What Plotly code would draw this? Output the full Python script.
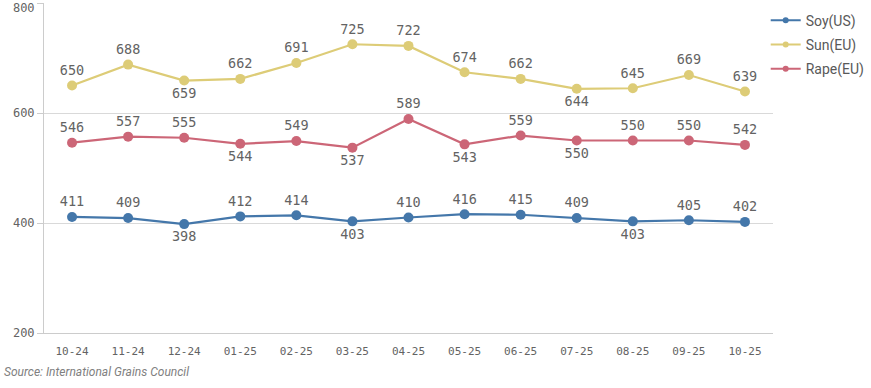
import plotly.graph_objects as go

months = ["10-24", "11-24", "12-24", "01-25", "02-25", "03-25", "04-25",
          "05-25", "06-25", "07-25", "08-25", "09-25", "10-25"]
soy_us = [411, 409, 398, 412, 414, 403, 410, 416, 415, 409, 403, 405, 402]
sun_eu = [650, 688, 659, 662, 691, 725, 722, 674, 662, 644, 645, 669, 639]
rape_eu = [546, 557, 555, 544, 549, 537, 589, 543, 559, 550, 550, 550, 542]

soy_pos = ["top", "top", "bottom", "top", "top", "bottom", "top", "top", "top", "top", "bottom", "top", "top"]
sun_pos = ["top", "top", "bottom", "top", "top", "top", "top", "top", "top", "bottom", "top", "top", "top"]
rape_pos = ["top", "top", "top", "bottom", "top", "bottom", "top", "bottom", "top", "bottom", "top", "top", "top"]

series = [
    ("Soy(US)", soy_us, soy_pos, "#4477aa"),
    ("Sun(EU)", sun_eu, sun_pos, "#ddcc77"),
    ("Rape(EU)", rape_eu, rape_pos, "#cc6677"),
]

fig = go.Figure()
for name, vals, pos, col in series:
    fig.add_trace(go.Scatter(
        x=months, y=vals, name=name, mode="lines+markers+text",
        line=dict(color=col, width=2.2),
        marker=dict(color=col, size=10),
        text=[str(v) for v in vals],
        textposition=[p + " center" for p in pos],
        textfont=dict(family="DejaVu Sans Mono", size=13.5, color="#636363"),
        cliponaxis=False, showlegend=False, legendgroup=name,
    ))
    # legend entry with a smaller symbol
    fig.add_trace(go.Scatter(
        x=[months[0]], y=[None], name=name, mode="lines+markers",
        line=dict(color=col, width=2), marker=dict(color=col, size=6),
        legendgroup=name, hoverinfo="skip",
    ))

tickfont_y = dict(family="DejaVu Sans Mono", size=12, color="#636363")
fig.update_layout(
    width=871, height=388,
    margin=dict(l=44, r=98, t=3, b=55, autoexpand=False),
    paper_bgcolor="white", plot_bgcolor="white",
    showlegend=True,
    legend=dict(x=0.99, y=0.995, xanchor="left", yanchor="top",
                font=dict(family="Roboto", size=14, color="#595959"),
                itemwidth=30, traceorder="grouped", tracegroupgap=3,
                bgcolor="rgba(0,0,0,0)"),
    xaxis=dict(type="category", range=[-0.5, len(months) - 0.5],
               showgrid=False, showline=True,
               linecolor="#cccccc", linewidth=1, ticks="", ticklabelstandoff=8,
               tickfont=dict(family="DejaVu Sans Mono", size=11, color="#636363"),
               zeroline=False, automargin=False),
    yaxis=dict(range=[200, 800], tickvals=[200, 400, 600],
               showgrid=True, gridcolor="#d9d9d9", gridwidth=1,
               showline=True, linecolor="#cccccc", linewidth=1,
               ticks="outside", ticklen=6, tickcolor="#cccccc",
               tickfont=tickfont_y, zeroline=False, automargin=False),
    yaxis2=dict(range=[200, 800], tickvals=[800], overlaying="y", side="left",
                showgrid=False, showline=False, ticks="outside", ticklen=6,
                tickcolor="#cccccc", tickfont=tickfont_y, ticklabelshift=5,
                ticklabeloverflow="allow",
                zeroline=False, automargin=False),
)
fig.add_trace(go.Scatter(x=[months[0]], y=[None], yaxis="y2", showlegend=False,
                         hoverinfo="skip", mode="markers"))
fig.add_annotation(text="<i>Source: International Grains Council</i>", xref="paper", yref="paper",
                   x=-42/729, y=-39/330, xanchor="left", yanchor="middle", showarrow=False,
                   font=dict(family="Roboto", size=12, color="#808080"))
fig.write_html("out.html", config={"displayModeBar": False},
               post_script="document.body.style.margin='0';document.body.style.overflow='hidden';")
